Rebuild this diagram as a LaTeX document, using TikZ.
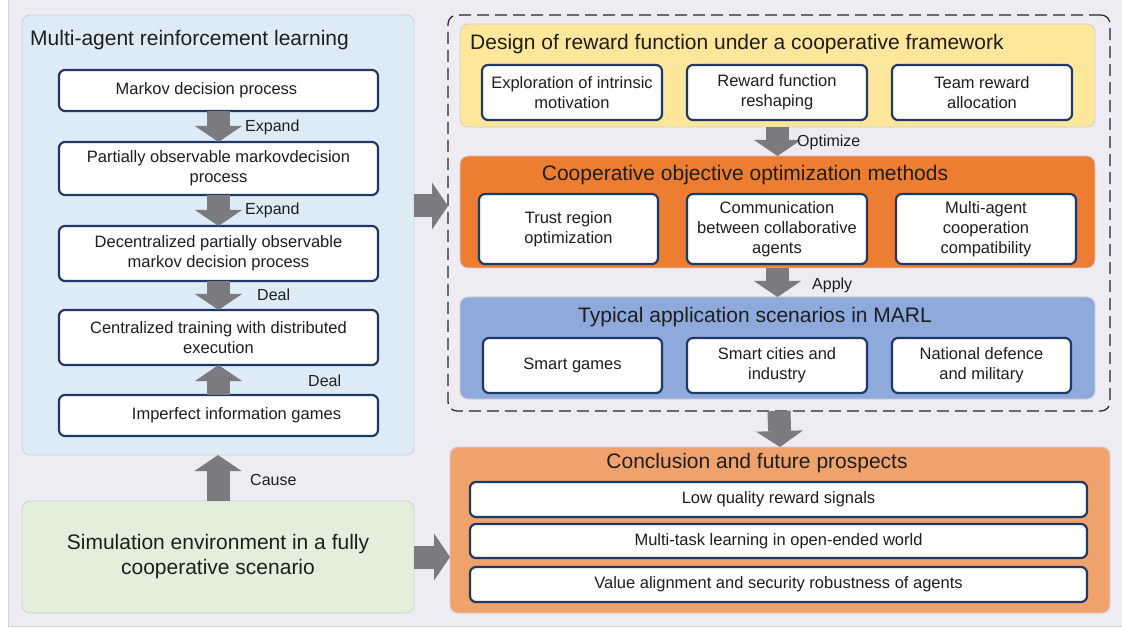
\documentclass[tikz,border=0pt]{standalone}
\usepackage{fontspec}
\setmainfont{Liberation Sans}
\usetikzlibrary{arrows.meta}
\definecolor{bgc}{HTML}{EEEBF3}
\definecolor{bgline}{HTML}{D6D3DC}
\definecolor{marlc}{HTML}{DDEBF7}
\definecolor{greenc}{HTML}{E2EFDA}
\definecolor{yellowc}{HTML}{FEE69A}
\definecolor{orangec}{HTML}{ED7D31}
\definecolor{bluec}{HTML}{8EA9DB}
\definecolor{conclc}{HTML}{EFA26C}
\definecolor{navy}{HTML}{1F3864}
\definecolor{arrowc}{HTML}{7B7B7F}
\definecolor{txt}{HTML}{1E1E1E}
\definecolor{pborder}{HTML}{D0D0D4}
\begin{document}
\begin{tikzpicture}[x=1pt,y=-1pt,
  panel/.style={draw=pborder, line width=0.8pt, rounded corners=8pt, inner sep=0pt, outer sep=0pt, anchor=north west},
  ibox/.style={draw=navy, fill=white, line width=2.2pt, rounded corners=6pt, inner sep=0pt, outer sep=0pt, anchor=north west, align=center, text=txt, font=\fontsize{16.5}{20}\selectfont},
  ttl/.style={text=txt, font=\fontsize{21}{25}\selectfont, inner sep=0pt},
  lbl/.style={text=txt, font=\fontsize{16}{19}\selectfont, inner sep=0pt, anchor=west},
  fat/.style={draw=arrowc, line width=23pt, -{Triangle[width=47pt,length=16pt,line width=0pt]}}
]
\useasboundingbox (0,0) rectangle (1122,628);
\fill[white] (0,0) rectangle (1122,628);
\filldraw[fill=bgc, draw=bgline, line width=0.8pt] (8,-2) -- (8,626) -- (1124,626) -- (1124,-2) -- cycle;

% ---------- left panel ----------
\node[panel, fill=marlc, minimum width=392, minimum height=440] (marl) at (22,15) {};
\node[ttl, anchor=west] (marlt) at (30,40) {Multi-agent reinforcement learning};
\node[ibox, minimum width=319, minimum height=41] (b1) at (59,70) {Markov decision process\hspace*{24pt}};
\node[ibox, minimum width=319, minimum height=53] (b2) at (59,142) {Partially observable markovdecision\\process};
\node[ibox, minimum width=319, minimum height=55] (b3) at (59,226) {Decentralized partially observable\\markov decision process};
\node[ibox, minimum width=319, minimum height=55] (b4) at (59,310) {Centralized training with distributed\\execution};
\node[ibox, minimum width=319, minimum height=41] (b5) at (59,395) {\hspace*{36pt}Imperfect information games};

\draw[fat] (b1.south) -- (b2.north);
\draw[fat] (b2.south) -- (b3.north);
\draw[fat] (b3.south) -- (b4.north);
\draw[fat] (b5.north) -- (b4.south);
\node[lbl] (l1) at (245,127) {Expand};
\node[lbl] (l2) at (245,210) {Expand};
\node[lbl] (l3) at (257,295) {Deal};
\node[lbl] (l4) at (308,381) {Deal};

% ---------- green ----------
\node[panel, fill=greenc, minimum width=392, minimum height=112, align=center, text=txt, font=\fontsize{21}{25}\selectfont] (green) at (22,501) {Simulation environment in a fully\\cooperative scenario};
\draw[fat] (green.north) -- (marl.south);
\node[lbl] (l5) at (250,480) {Cause};

% ---------- dashed frame ----------
\node[draw=black!85, dash pattern=on 12pt off 6pt, line width=1.2pt, rounded corners=9pt, inner sep=0pt, outer sep=0pt, anchor=north west, minimum width=662, minimum height=396] (dash) at (448,15) {};

% yellow
\node[panel, fill=yellowc, minimum width=635, minimum height=103] (yel) at (460,24) {};
\node[ttl, anchor=west] (yelt) at (470,44) {Design of reward function under a cooperative framework};
\node[ibox, minimum width=180, minimum height=55] (y1) at (482,65) {Exploration of intrinsic\\motivation};
\node[ibox, minimum width=180, minimum height=55] (y2) at (687,65) {Reward function\\reshaping};
\node[ibox, minimum width=180, minimum height=55] (y3) at (892,65) {Team reward\\allocation};

% orange
\node[panel, fill=orangec, minimum width=635, minimum height=112] (ora) at (460,156) {};
\node[ttl] (orat) at (745,175) {Cooperative objective optimization methods};
\node[ibox, minimum width=179, minimum height=70] (o1) at (479,194) {Trust region\\optimization};
\node[ibox, minimum width=180, minimum height=70] (o2) at (687,194) {Communication\\between collaborative\\agents};
\node[ibox, minimum width=180, minimum height=70] (o3) at (896,194) {Multi-agent\\cooperation\\compatibility};

% blue
\node[panel, fill=bluec, minimum width=635, minimum height=102] (blu) at (460,297) {};
\node[ttl] (blut) at (755,317) {Typical application scenarios in MARL};
\node[ibox, minimum width=179, minimum height=55] (u1) at (483,338) {Smart games};
\node[ibox, minimum width=180, minimum height=55] (u2) at (687,338) {Smart cities and\\industry};
\node[ibox, minimum width=179, minimum height=55] (u3) at (892,338) {National defence\\and military};

\draw[fat] (yel.south) -- (ora.north);
\node[lbl] (l6) at (797,142) {Optimize};
\draw[fat] (ora.south) -- (blu.north);
\node[lbl] (l7) at (812,285) {Apply};

% conclusion
\node[panel, fill=conclc, minimum width=660, minimum height=166] (con) at (450,447) {};
\node[ttl] (cont) at (757,463) {Conclusion and future prospects};
\node[ibox, minimum width=617, minimum height=35] (c1) at (470,482) {Low quality reward signals};
\node[ibox, minimum width=617, minimum height=34] (c2) at (470,524) {Multi-task learning in open-ended world};
\node[ibox, minimum width=617, minimum height=35] (c3) at (470,567) {Value alignment and security robustness of agents};

\draw[fat] (dash.south) -- (con.north);

% horizontal arrows
\coordinate (ya) at (0,206);
\draw[fat] (marl.east |- ya) -- (dash.west |- ya);
\draw[fat] (green.east) -- (con.west |- green.east);
\end{tikzpicture}
\end{document}
